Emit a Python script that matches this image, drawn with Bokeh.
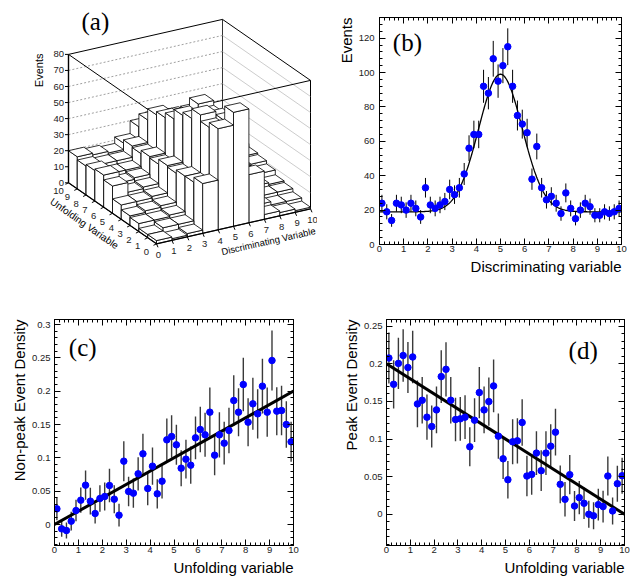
import math
import numpy as np
from bokeh.plotting import figure
from bokeh.layouts import row, column
from bokeh.models import Range1d, LinearAxis, FixedTicker, Label, Title
from bokeh.embed import file_html
from bokeh.resources import INLINE
from bokeh.core.properties import value

SANS = "Liberation Sans"
SERIF = "Liberation Serif"

# ---------------- data ----------------
bin_centers = [0.1, 0.3, 0.5, 0.7, 0.9, 1.1, 1.3, 1.5, 1.7, 1.9,
               2.1, 2.3, 2.5, 2.7, 2.9, 3.1, 3.3, 3.5, 3.7, 3.9,
               4.1, 4.3, 4.5, 4.7, 4.9, 5.1, 5.3, 5.5, 5.7, 5.9,
               6.1, 6.3, 6.5, 6.7, 6.9, 7.1, 7.3, 7.5, 7.7, 7.9,
               8.1, 8.3, 8.5, 8.7, 8.9, 9.1, 9.3, 9.5, 9.7, 9.9]

# (b) events vs discriminating variable
disc_events = [24, 19, 14, 24, 23, 20, 24, 21, 16, 33,
               23, 21, 23, 25, 32, 29, 33, 41, 56, 64,
               64, 92, 88, 108, 95, 104, 115, 92, 75, 70,
               65, 38, 57, 33, 26, 28, 24, 18, 30, 21,
               15, 20, 24, 22, 17, 17, 19, 18, 19, 21]
disc_errors = [4.9, 4.4, 3.7, 4.9, 4.8, 4.5, 4.9, 4.6, 4.0, 5.7,
               4.8, 4.6, 4.8, 5.0, 5.7, 5.4, 5.7, 6.4, 7.5, 8.0,
               8.0, 9.6, 9.4, 10.4, 9.7, 10.2, 10.7, 9.6, 8.7, 8.4,
               8.1, 6.2, 7.5, 5.7, 5.1, 5.3, 4.9, 4.2, 5.5, 4.6,
               3.9, 4.5, 4.9, 4.7, 4.1, 4.1, 4.4, 4.2, 4.4, 4.6]
fit_baseline = 19.0
fit_amplitude = 80.0
fit_mean = 5.0
fit_sigma = 0.9

# (c) non-peak event density vs unfolding variable
nonpeak_density = [0.0235, -0.0065, -0.009, 0.005, 0.021, 0.0365, 0.059, 0.035, 0.0165, 0.039,
                   0.042, 0.0585, 0.038, 0.014, 0.095, 0.0495, 0.047, 0.076, 0.106, 0.054,
                   0.0875, 0.046, 0.065, 0.127, 0.132, 0.1195, 0.0845, 0.098, 0.089, 0.130,
                   0.1425, 0.1345, 0.1685, 0.104, 0.1345, 0.122, 0.141, 0.186, 0.1685, 0.210,
                   0.1535, 0.181, 0.166, 0.2075, 0.1685, 0.246, 0.170, 0.171, 0.150, 0.124]
nonpeak_errors = [0.017, 0.012, 0.012, 0.014, 0.016, 0.019, 0.022, 0.020, 0.015, 0.020,
                  0.021, 0.025, 0.021, 0.017, 0.030, 0.022, 0.022, 0.025, 0.030, 0.025,
                  0.028, 0.022, 0.026, 0.032, 0.032, 0.030, 0.027, 0.029, 0.028, 0.032,
                  0.034, 0.033, 0.037, 0.030, 0.034, 0.032, 0.034, 0.038, 0.036, 0.040,
                  0.036, 0.039, 0.037, 0.041, 0.037, 0.045, 0.036, 0.037, 0.035, 0.030]
nonpeak_line_x = [0.0, 10.0]
nonpeak_line_y = [0.0, 0.2]

# (d) peak event density vs unfolding variable
peak_density = [0.2076, 0.1727, 0.2005, 0.211, 0.195, 0.209, 0.1466, 0.1515, 0.129, 0.1166,
                0.1387, 0.1829, 0.1926, 0.1515, 0.1259, 0.1268, 0.129, 0.0897, 0.125, 0.1617,
                0.1387, 0.1497, 0.1705, 0.1038, 0.0737, 0.0459, 0.0963, 0.0976, 0.1219, 0.0508,
                0.053, 0.0813, 0.0579, 0.0813, 0.0905, 0.1091, 0.0398, 0.0199, 0.0526, 0.011,
                0.0221, 0.0146, 0.0, -0.002, 0.0128, 0.0102, 0.0508, 0.0044, 0.0406, 0.0512]
peak_errors = [0.034, 0.032, 0.034, 0.035, 0.034, 0.035, 0.031, 0.031, 0.030, 0.028,
               0.031, 0.035, 0.036, 0.031, 0.029, 0.029, 0.029, 0.026, 0.029, 0.034,
               0.031, 0.032, 0.035, 0.030, 0.027, 0.025, 0.030, 0.030, 0.031, 0.027,
               0.027, 0.029, 0.027, 0.029, 0.029, 0.031, 0.025, 0.023, 0.026, 0.020,
               0.022, 0.021, 0.018, 0.018, 0.021, 0.021, 0.026, 0.018, 0.024, 0.024]
peak_line_x = [0.0, 10.0]
peak_line_y = [0.2, 0.0]

# (a) lego: events per (unfolding bin row, discriminating bin column)
lego_events = [
    [2, 1, 2, 31, 63, 71, 30, 3, 2, 1],
    [2, 4, 4, 28, 60, 62, 27, 5, 3, 3],
    [5, 5, 6, 28, 64, 60, 25, 6, 5, 5],
    [6, 7, 8, 26, 58, 58, 26, 8, 7, 6],
    [9, 9, 10, 27, 56, 61, 23, 10, 9, 9],
    [17, 11, 12, 24, 50, 52, 24, 11, 10, 11],
    [20, 13, 14, 25, 47, 46, 22, 13, 12, 12],
    [19, 15, 15, 23, 45, 42, 21, 15, 14, 14],
    [18, 17, 17, 24, 38, 37, 22, 17, 16, 16],
    [20, 19, 18, 22, 30, 33, 20, 18, 18, 17],
]
lego_z_ticks = [0, 10, 20, 30, 40, 50, 60, 70, 80]
lego_axis_ticks = [0, 1, 2, 3, 4, 5, 6, 7, 8, 9, 10]

x_ticks = [0, 1, 2, 3, 4, 5, 6, 7, 8, 9, 10]
events_ticks = [0, 20, 40, 60, 80, 100, 120]
dens_c_ticks = [0, 0.05, 0.1, 0.15, 0.2, 0.25, 0.3]
dens_c_labels = ["0", "0.05", "0.1", "0.15", "0.2", "0.25", "0.3"]
dens_d_ticks = [0, 0.05, 0.1, 0.15, 0.2, 0.25]
dens_d_labels = ["0", "0.05", "0.1", "0.15", "0.2", "0.25"]

# ---------------- panel (a): lego ----------------
ORIGIN = (156.0, 243.3)
D_VEC = (15.4, -3.5)
U_VEC = (-8.8, -6.1)
Z_PX = 1.605
Z_TOP = 80


def proj(d, u, z):
    return (ORIGIN[0] + D_VEC[0] * d + U_VEC[0] * u,
            ORIGIN[1] + D_VEC[1] * d + U_VEC[1] * u - Z_PX * z)


pa = figure(width=317, height=289, x_range=Range1d(0, 317), y_range=Range1d(289, 0),
            x_axis_type=None, y_axis_type=None, toolbar_location=None,
            output_backend="svg", min_border=0)
pa.outline_line_color = None


def seg(p, pts, **kw):
    xs = [q[0] for q in pts]
    ys = [q[1] for q in pts]
    p.line(xs, ys, **kw)


nd = len(lego_events[0])
nu = len(lego_events)
# back box
seg(pa, [proj(0, nu, 0), proj(nd, nu, 0), proj(nd, 0, 0)], line_color="black", line_width=0.8)
seg(pa, [proj(nd, nu, 0), proj(nd, nu, Z_TOP)], line_color="black", line_width=0.8)
seg(pa, [proj(0, nu, Z_TOP), proj(nd, nu, Z_TOP), proj(nd, 0, Z_TOP)], line_color="black", line_width=1)
seg(pa, [proj(nd, 0, 0), proj(nd, 0, Z_TOP)], line_color="black", line_width=1)
for z in lego_z_ticks[1:-1]:
    seg(pa, [proj(0, nu, z), proj(nd, nu, z)], line_color="#888888", line_width=0.8, line_dash="2 2")
    seg(pa, [proj(nd, nu, z), proj(nd, 0, z)], line_color="#aaaaaa", line_width=0.6)
# front box edges (behind bars)
seg(pa, [proj(0, nu, Z_TOP), proj(0, 0, Z_TOP), proj(nd, 0, Z_TOP)], line_color="black", line_width=1)
seg(pa, [proj(0, 0, 0), proj(0, 0, Z_TOP)], line_color="black", line_width=1)

# bars, painter's order: farthest first
cells = [(d, u) for u in range(nu) for d in range(nd)]
cells.sort(key=lambda c: -(c[0] + c[1]))
bx, by = [], []
for d, u in cells:
    h = lego_events[u][d]
    faces = [
        [proj(d, u, 0), proj(d, u + 1, 0), proj(d, u + 1, h), proj(d, u, h)],
        [proj(d, u, 0), proj(d + 1, u, 0), proj(d + 1, u, h), proj(d, u, h)],
        [proj(d, u, h), proj(d + 1, u, h), proj(d + 1, u + 1, h), proj(d, u + 1, h)],
    ]
    for f in faces:
        bx.append([q[0] for q in f])
        by.append([q[1] for q in f])
pa.patches(bx, by, fill_color="white", line_color="black", line_width=0.8)

# axes of the lego
seg(pa, [proj(0, nu, 0), proj(0, nu, Z_TOP)], line_color="black", line_width=1.4)
seg(pa, [proj(0, nu, 0), proj(0, 0, 0), proj(nd, 0, 0)], line_color="black", line_width=1.2)
zx, zy, zt = [], [], []
for z in lego_z_ticks:
    x0, y0 = proj(0, nu, z)
    pa.line([x0 - 3.5, x0], [y0, y0], line_color="black", line_width=1)
    zx.append(x0 - 4.5)
    zy.append(y0)
    zt.append(str(z))
pa.text(zx, zy, text=zt, text_font=value(SANS), text_font_size=value("9.5px"),
        text_align="right", text_baseline="middle", text_color="#222222")
ux, uy, ut = [], [], []
for t in lego_axis_ticks:
    x0, y0 = proj(0, t, 0)
    pa.line([x0, x0 - 3.0], [y0, y0 + 1.5], line_color="black", line_width=1)
    ux.append(x0 - 10.0)
    uy.append(y0 + 8.5)
    ut.append(str(t))
pa.text(ux, uy, text=ut, text_font=value(SANS), text_font_size=value("9.5px"),
        text_align="center", text_baseline="middle", text_color="#222222")
dx, dy, dt = [], [], []
for t in lego_axis_ticks:
    x0, y0 = proj(t, 0, 0)
    pa.line([x0, x0 + 1.5], [y0, y0 + 3.5], line_color="black", line_width=1)
    dx.append(x0 + 2.0)
    dy.append(y0 + 11.0)
    dt.append(str(t))
pa.text(dx, dy, text=dt, text_font=value(SANS), text_font_size=value("9.5px"),
        text_align="center", text_baseline="middle", text_color="#222222")

pa.text([44], [53], text=["Events"], angle=math.pi / 2, text_font=value(SANS),
        text_font_size=value("11px"), text_align="right", text_baseline="bottom")
pa.text([84], [223], text=["Unfolding Variable"], angle=-0.609, text_font=value(SANS),
        text_font_size=value("10px"), text_align="center", text_baseline="middle")
pa.text([315], [230], text=["Discriminating Variable"], angle=0.223, text_font=value(SANS),
        text_font_size=value("9.5px"), text_align="right", text_baseline="alphabetic")
pa.text([81], [21], text=["(a)"], text_font=value(SERIF), text_font_size=value("25px"),
        text_align="left", text_baseline="alphabetic")


# ---------------- 2D panels ----------------
def style_axis(ax, show, tick_standoff):
    ax.axis_line_color = "black"
    ax.major_tick_in = 6
    ax.major_tick_out = 0
    ax.minor_tick_in = 3
    ax.minor_tick_out = 0
    ax.major_tick_line_color = "black"
    ax.minor_tick_line_color = "black"
    if show:
        ax.major_label_text_font = SANS
        ax.major_label_text_font_size = "9.5px"
        ax.major_label_text_color = "#222222"
        ax.major_label_standoff = tick_standoff
    else:
        ax.major_label_text_font_size = "0px"
        ax.major_label_standoff = 0
        ax.major_label_text_color = None


def make_panel(yr, left, right, top, bottom, yt, ylabels, yminor, xlabel, ylabel,
               xstand, ystand):
    p = figure(width=317, height=289, x_range=Range1d(0, 10), y_range=Range1d(*yr),
               toolbar_location=None, output_backend="svg",
               min_border_left=left, min_border_right=right,
               min_border_top=top, min_border_bottom=bottom,
               x_axis_type=None, y_axis_type=None)
    p.outline_line_color = "black"
    p.outline_line_width = 1
    xminor = [i * 0.2 for i in range(51)]
    for place, show in (("below", True), ("above", False)):
        ax = LinearAxis(ticker=FixedTicker(ticks=x_ticks, minor_ticks=xminor))
        ax.major_label_overrides = {t: str(t) for t in x_ticks}
        style_axis(ax, show, xstand[1])
        p.add_layout(ax, place)
    for place, show in (("left", True), ("right", False)):
        ax = LinearAxis(ticker=FixedTicker(ticks=yt, minor_ticks=yminor))
        ax.major_label_overrides = {t: l for t, l in zip(yt, ylabels)}
        style_axis(ax, show, ystand[1])
        p.add_layout(ax, place)
    p.add_layout(Title(text=xlabel, align="right", text_font=SANS, text_font_size="15px",
                       text_font_style="normal", text_color="black",
                       standoff=xstand[0]), "below")
    p.add_layout(Title(text=ylabel, align="right", text_font=SANS, text_font_size="15px",
                       text_font_style="normal", text_color="black",
                       standoff=ystand[0]), "left")
    return p


def add_tag(p, x, y, text):
    p.add_layout(Label(x=x, y=y, text=text, text_font=SERIF, text_font_size="25px",
                       text_align="left", text_baseline="alphabetic", text_color="black"))


# (b)
pb = make_panel((0, 132), 62, 13, 17, 45, events_ticks, [str(t) for t in events_ticks],
                [i * 4 for i in range(34)], "Discriminating variable", "Events",
                (3, 1), (2, 5))
xb = np.array(bin_centers)
yb = np.array(disc_events, dtype=float)
eb = np.array(disc_errors)
pb.segment(xb, yb - eb, xb, yb + eb, line_color="black", line_width=1)
xf = np.linspace(0, 10, 400)
yf = fit_baseline + fit_amplitude * np.exp(-0.5 * ((xf - fit_mean) / fit_sigma) ** 2)
pb.line(xf, yf, line_color="black", line_width=1.3)
pb.scatter(xb, yb, size=6.5, fill_color="blue", line_color="blue")
add_tag(pb, 0.55, 117.5, "(b)")

# (c)
pc = make_panel((-0.0315, 0.3075), 54, 24, 30, 33, dens_c_ticks, dens_c_labels,
                [i * 0.01 - 0.03 for i in range(35)], "Unfolding variable",
                "Non-peak Event Density", (2, 1), (3, 4))
xc = np.array(bin_centers)
yc = np.array(nonpeak_density)
ec = np.array(nonpeak_errors)
pc.segment(xc, yc - ec, xc, yc + ec, line_color="#3a3a3a", line_width=1.4)
pc.line(nonpeak_line_x, nonpeak_line_y, line_color="black", line_width=3)
pc.scatter(xc, yc, size=6.5, fill_color="blue", line_color="blue")
add_tag(pc, 0.6, 0.266, "(c)")

# (d)
pd_ = make_panel((-0.0415, 0.2588), 69, 10, 30, 33, dens_d_ticks, dens_d_labels,
                 [i * 0.01 - 0.04 for i in range(31)], "Unfolding variable",
                 "Peak Event Density", (2, 1), (3, 4))
xd = np.array(bin_centers)
yd = np.array(peak_density)
ed = np.array(peak_errors)
pd_.segment(xd, yd - ed, xd, yd + ed, line_color="#3a3a3a", line_width=1.4)
pd_.line(peak_line_x, peak_line_y, line_color="black", line_width=3)
pd_.scatter(xd, yd, size=6.5, fill_color="blue", line_color="blue")
add_tag(pd_, 7.65, 0.2176, "(d)")

layout = column(row(column(pa), column(pb)), row(pc, pd_))
open("out.html", "w").write(file_html(layout, INLINE))
